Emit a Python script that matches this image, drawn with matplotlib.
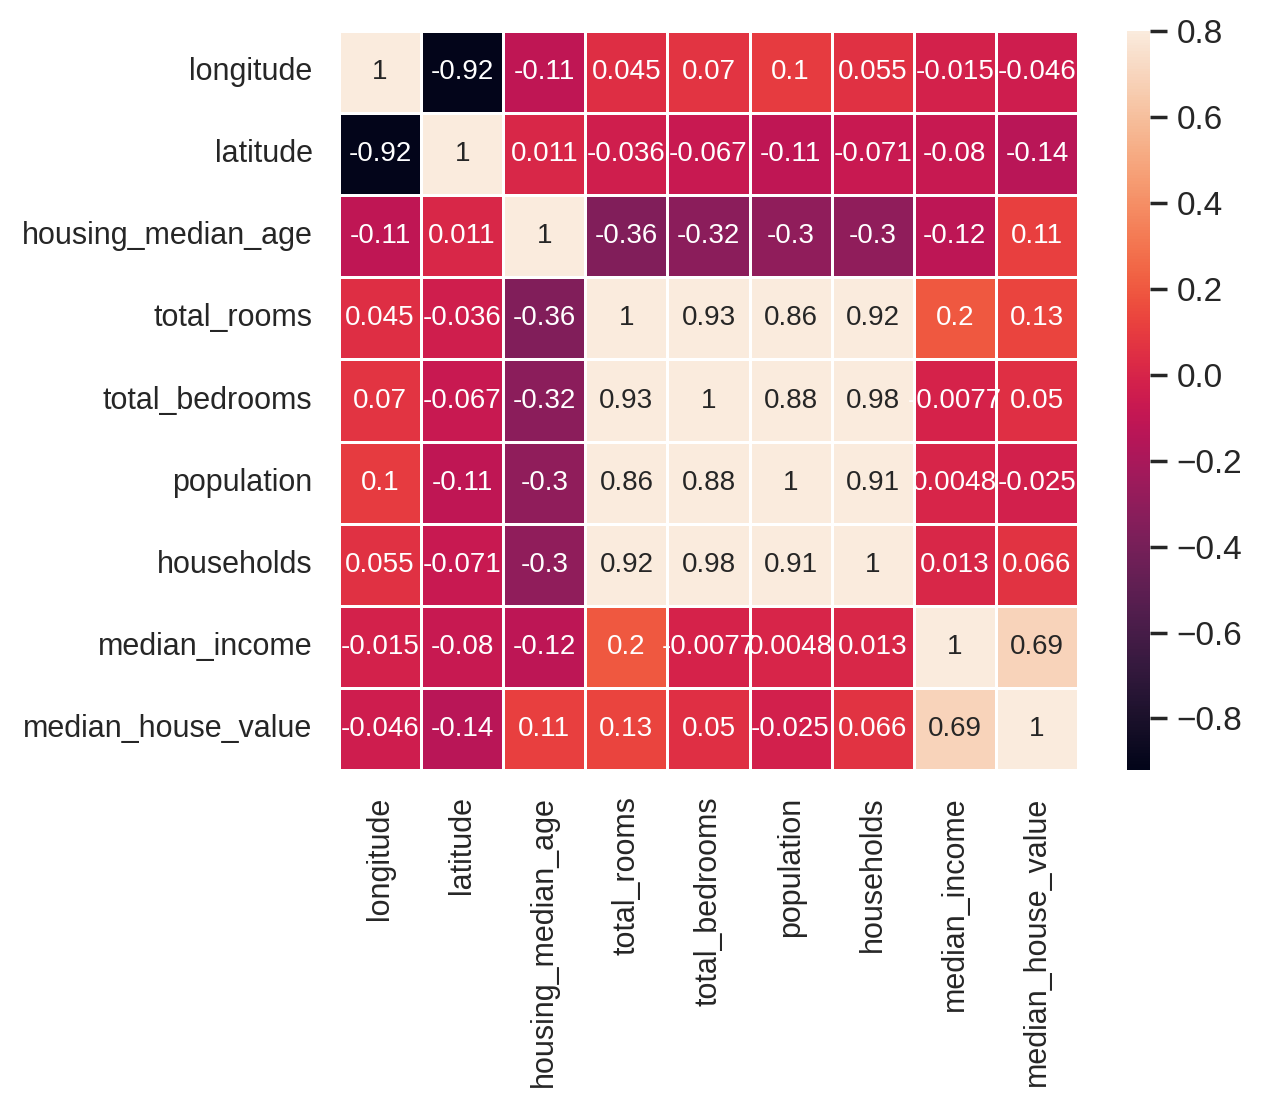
import numpy as np
import pandas as pd
import matplotlib
matplotlib.use("Agg")
import matplotlib.pyplot as plt
import matplotlib.ticker as mticker
import seaborn as sns

# column names of the housing data
columns = ["longitude", "latitude", "housing_median_age", "total_rooms",
           "total_bedrooms", "population", "households", "median_income",
           "median_house_value"]

# correlation rows
longitude = [1, -0.92, -0.11, 0.045, 0.07, 0.1, 0.055, -0.015, -0.046]
latitude = [-0.92, 1, 0.011, -0.036, -0.067, -0.11, -0.071, -0.08, -0.14]
housing_median_age = [-0.11, 0.011, 1, -0.36, -0.32, -0.3, -0.3, -0.12, 0.11]
total_rooms = [0.045, -0.036, -0.36, 1, 0.93, 0.86, 0.92, 0.2, 0.13]
total_bedrooms = [0.07, -0.067, -0.32, 0.93, 1, 0.88, 0.98, -0.0077, 0.05]
population = [0.1, -0.11, -0.3, 0.86, 0.88, 1, 0.91, 0.0048, -0.025]
households = [0.055, -0.071, -0.3, 0.92, 0.98, 0.91, 1, 0.013, 0.066]
median_income = [-0.015, -0.08, -0.12, 0.2, -0.0077, 0.0048, 0.013, 1, 0.69]
median_house_value = [-0.046, -0.14, 0.11, 0.13, 0.05, -0.025, 0.066, 0.69, 1]

rows = [longitude, latitude, housing_median_age, total_rooms, total_bedrooms,
        population, households, median_income, median_house_value]
corrmat = pd.DataFrame(rows, index=columns, columns=columns)

sns.set_theme()
plt.rcParams['font.family'] = ['Liberation Sans', 'DejaVu Sans']

fig = plt.figure(figsize=(6.35, 5.545), dpi=200)
# heatmap and colorbar placed where they are in the reference
ax = fig.add_axes([339 / 1270, 1 - 770 / 1109, 739 / 1270, 739 / 1109])
cax = fig.add_axes([1127 / 1270, 1 - 770 / 1109, 23 / 1270, 739 / 1109])

sns.heatmap(corrmat, vmax=.8, square=True, annot=True, linewidths=0.5,
            annot_kws={"size": 10}, ax=ax, cbar_ax=cax)

cax.yaxis.set_major_locator(mticker.MultipleLocator(0.2))
cax.tick_params(labelsize=12)

fig.savefig("out.png", dpi=200)
